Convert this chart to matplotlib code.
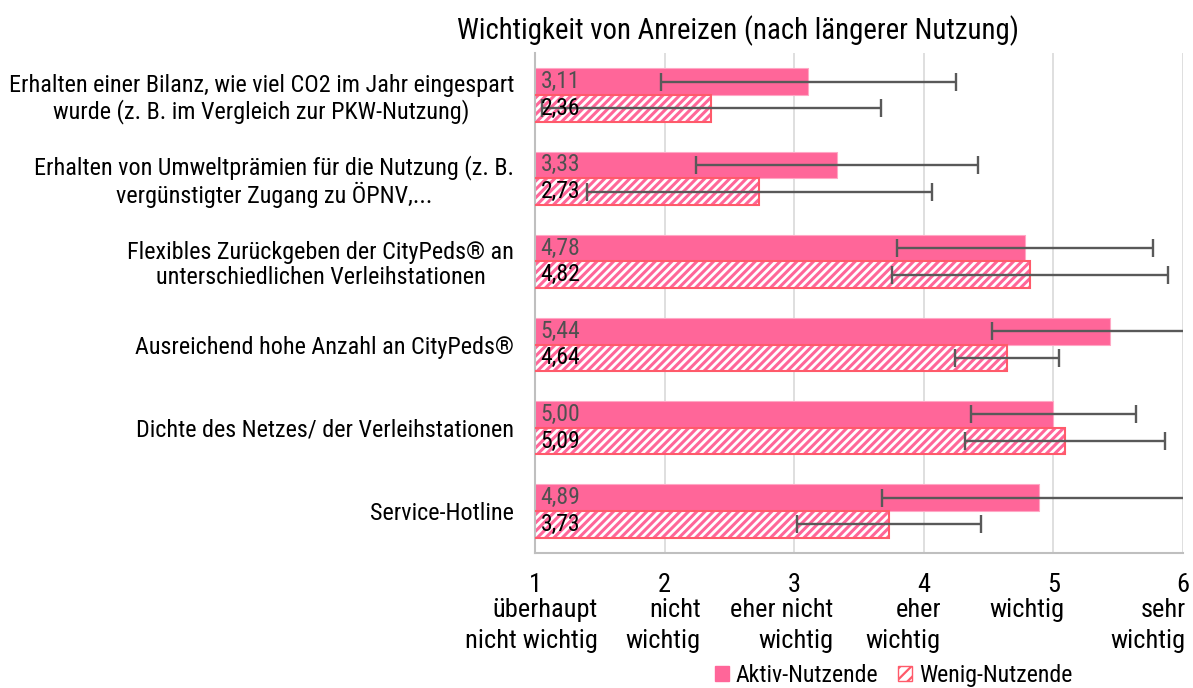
import numpy as np
import matplotlib.pyplot as plt
from matplotlib import font_manager
from matplotlib.patches import Patch

categories = [
    "Erhalten einer Bilanz, wie viel CO2 im Jahr eingespart\nwurde (z. B. im Vergleich zur PKW-Nutzung)",
    "Erhalten von Umweltprämien für die Nutzung (z. B.\nvergünstigter Zugang zu ÖPNV,...",
    "Flexibles Zurückgeben der CityPeds® an\nunterschiedlichen Verleihstationen",
    "Ausreichend hohe Anzahl an CityPeds®",
    "Dichte des Netzes/ der Verleihstationen",
    "Service-Hotline",
]
aktiv = [3.11, 3.33, 4.78, 5.44, 5.00, 4.89]
aktiv_sd = [1.14, 1.09, 0.99, 0.91, 0.635, 1.21]
wenig = [2.36, 2.73, 4.82, 4.64, 5.09, 3.73]
wenig_sd = [1.31, 1.33, 1.065, 0.40, 0.77, 0.71]
ticks = [1, 2, 3, 4, 5, 6]
tick_text = ["überhaupt\nnicht wichtig", "nicht\nwichtig", "eher nicht\nwichtig",
             "eher\nwichtig", "wichtig", "sehr\nwichtig"]

# layout only: right edge of descriptor text relative to tick (pixels)
tick_shift = [63, 36, 39, 17, 11, 3]

names = {f.name for f in font_manager.fontManager.ttflist}
for fam in ["Roboto Condensed", "Liberation Sans Narrow", "Roboto", "DejaVu Sans"]:
    if fam in names:
        break
plt.rcParams['font.family'] = [fam, 'DejaVu Sans']
fs_cat = 17.4
fs_tick = 19
fs_val = 17
fs_leg = 17.2

pink = "#FF6699"
red_edge = "#FF5A6A"
errc = "#595959"

fig = plt.figure(figsize=(11.93, 6.88), dpi=100)
ax = fig.add_axes([0.4485, 0.1968, 0.5431, 0.7256])

y = np.arange(len(categories))
h = 0.32
ax.barh(y - h / 2, aktiv, height=h, color=pink, edgecolor="#FFA8C5", lw=0.8, zorder=2)
plt.rcParams['hatch.linewidth'] = 2.2
ax.barh(y + h / 2, wenig, height=h, color="white", edgecolor=pink, hatch="////", lw=0, zorder=2)
ax.barh(y + h / 2, wenig, height=h, fill=False, edgecolor=red_edge, lw=1.5, zorder=3)

ax.errorbar(aktiv, y - h / 2, xerr=aktiv_sd, fmt="none", ecolor=errc, elinewidth=1.7,
            capsize=6.5, capthick=1.7, zorder=4)
ax.errorbar(wenig, y + h / 2, xerr=wenig_sd, fmt="none", ecolor=errc, elinewidth=1.7,
            capsize=6.5, capthick=1.7, zorder=4)

for yi, v in zip(y, aktiv):
    ax.annotate(f"{v:.2f}".replace(".", ","), (1, yi - h / 2), xytext=(4, 0),
                textcoords="offset points", va="center", ha="left", fontsize=fs_val,
                color="#505050", zorder=5)
for yi, v in zip(y, wenig):
    ax.annotate(f"{v:.2f}".replace(".", ","), (1, yi + h / 2), xytext=(4, 0),
                textcoords="offset points", va="center", ha="left", fontsize=fs_val,
                color="black", zorder=5)

ax.set_xlim(1, 6)
ax.set_ylim(len(categories) - 0.5, -0.5)
ax.set_yticks(y)
ax.set_yticklabels(categories, fontsize=fs_cat, multialignment="center", linespacing=1.1)
ax.tick_params(axis="y", length=0, pad=15)
ax.set_xticks(ticks)
ax.set_xticklabels([str(t) for t in ticks], fontsize=fs_tick)
ax.tick_params(axis="x", length=0, pad=14.5)
ax.grid(axis="x", color="#D9D9D9", lw=1.2, zorder=0)
ax.set_axisbelow(True)
for s in ["top", "right"]:
    ax.spines[s].set_visible(False)
for s in ["left", "bottom"]:
    ax.spines[s].set_color("#BFBFBF")
    ax.spines[s].set_linewidth(1.5)

for t, txt, dx in zip(ticks, tick_text, tick_shift):
    ax.annotate(txt, (t, 0), xycoords=("data", "axes fraction"), xytext=(dx * 0.72, -33),
                textcoords="offset points", ha="right", va="top", fontsize=fs_tick,
                multialignment="right", linespacing=1.32)

fig.text(0.619, 0.955, "Wichtigkeit von Anreizen (nach längerer Nutzung)", ha="center",
         va="center", fontsize=20.7)

plt.rcParams['hatch.linewidth'] = 1.6
handles = [Patch(facecolor=pink, edgecolor=pink, label="Aktiv-Nutzende"),
           Patch(facecolor="white", edgecolor=red_edge, hatch="///", label="Wenig-Nutzende")]
fig.legend(handles=handles, loc="center", bbox_to_anchor=(0.749, 0.018), ncol=2, frameon=False,
           fontsize=fs_leg, handlelength=0.6, handleheight=0.6, handletextpad=0.3,
           columnspacing=0.8, borderaxespad=0)

fig.savefig("out.png", dpi=100)
